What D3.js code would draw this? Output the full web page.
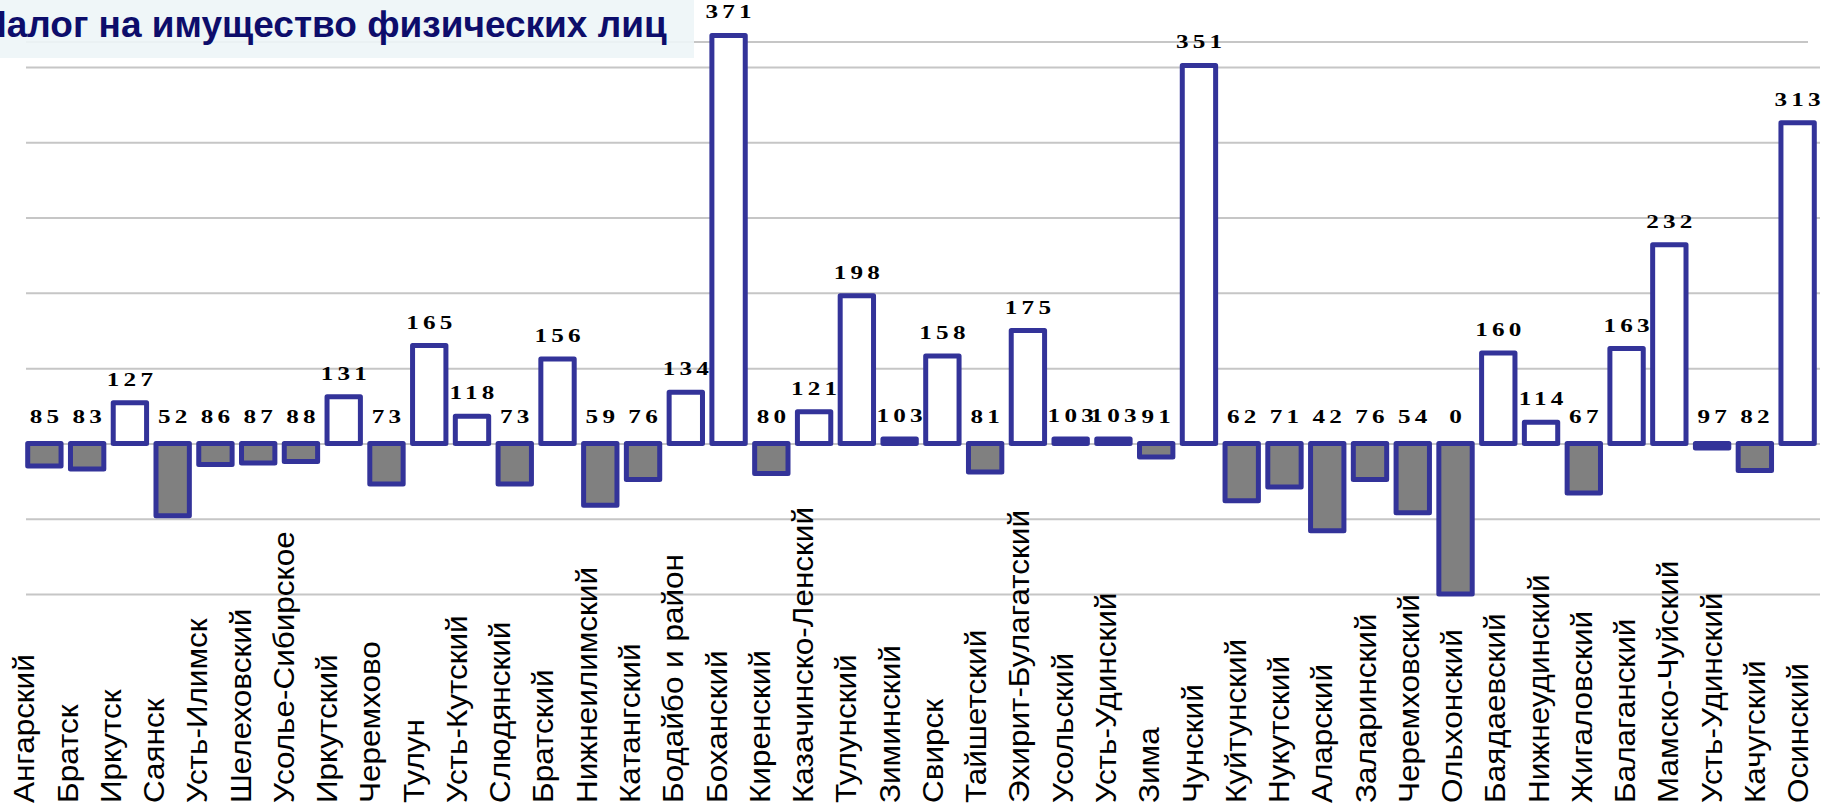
<!DOCTYPE html>
<html><head><meta charset="utf-8">
<script src="https://cdn.jsdelivr.net/npm/d3@7"></script>
<style>body{margin:0;background:#fff;} svg{display:block}</style>
</head><body>
<svg id="c" width="1823" height="810"></svg>
<script>
const title = "Налог на имущество физических лиц";
const categories = ["Ангарский","Братск","Иркутск","Саянск","Усть-Илимск","Шелеховский","Усолье-Сибирское","Иркутский","Черемхово","Тулун","Усть-Кутский","Слюдянский","Братский","Нижнеилимский","Катангский","Бодайбо и район","Боханский","Киренский","Казачинско-Ленский","Тулунский","Зиминский","Свирск","Тайшетский","Эхирит-Булагатский","Усольский","Усть-Удинский","Зима","Чунский","Куйтунский","Нукутский","Аларский","Заларинский","Черемховский","Ольхонский","Баядаевский","Нижнеудинский","Жигаловский","Балаганский","Мамско-Чуйский","Усть-Удинский","Качугский","Осинский"];
const values = [85,83,127,52,86,87,88,131,73,165,118,73,156,59,76,134,371,80,121,198,103,158,81,175,103,103,91,351,62,71,42,76,54,0,160,114,67,163,232,97,82,313];
const gridTicks = [0,50,100,150,200,250,300,350];
const baseValue = 100;

const svg = d3.select("#c");
const n = categories.length;
const idx = d3.range(n);
const plotLeft = 26, plotRight = 1820, plotTop = 42;

const x = d3.scaleBand().domain(idx).range([23,1819]).paddingInner(0.22).paddingOuter(0.11);
const y = d3.scaleLinear().domain([0,350]).range([594,67]);
const xl = d3.scalePoint().domain(idx).range([27,1801]);

// top frame line
svg.append("line").attr("x1",plotLeft).attr("x2",1808).attr("y1",plotTop).attr("y2",plotTop)
  .attr("stroke","#c6c6c6").attr("stroke-width",2);

// gridlines
const grid = svg.append("g").attr("transform",`translate(${plotLeft},0)`)
  .call(d3.axisLeft(y).tickValues(gridTicks).tickSize(-(plotRight-plotLeft)).tickFormat(""));
grid.select(".domain").remove();
grid.selectAll(".tick line").attr("stroke","#c6c6c6").attr("stroke-width",2);

// bars
const y0 = y(baseValue);
svg.append("g").selectAll("rect").data(idx).join("rect")
  .attr("x", i => x(i))
  .attr("width", x.bandwidth())
  .attr("y", i => Math.min(y(values[i]), y0))
  .attr("height", i => Math.max(1, Math.abs(y(values[i]) - y0)))
  .attr("fill", i => values[i] >= baseValue ? "#ffffff" : "#808080")
  .attr("stroke", "#333399")
  .attr("stroke-width", 5)
  .attr("stroke-linejoin", "round");

// value labels
const vl = svg.append("g").selectAll("g").data(idx).join("g")
  .attr("transform", i => {
    const v = values[i];
    const ty = v >= baseValue ? y(v) - 17 : y0 - 20;
    return `translate(${x(i)+x.bandwidth()/2},${ty})scale(1.4,1)`;
  });
vl.append("text")
  .attr("text-anchor","middle")
  .attr("dx", 1.5)
  .attr("font-family","'Liberation Serif','Times New Roman',serif")
  .attr("font-weight","bold")
  .attr("font-size",18)
  .attr("letter-spacing",3)
  .attr("fill","#000")
  .text(i => values[i]);

// category labels
svg.append("g").selectAll("text").data(idx).join("text")
  .attr("transform", i => `translate(${xl(i)},803)rotate(-90)scale(1.085,1)`)
  .attr("dy","0.25em")
  .attr("text-anchor","start")
  .attr("font-family","'Liberation Sans',Arial,sans-serif")
  .attr("font-size",29)
  .attr("fill","#000")
  .text(i => categories[i]);

// title box
svg.append("rect").attr("x",0).attr("y",0).attr("width",694).attr("height",58)
  .attr("fill","#edf5f7").attr("fill-opacity",0.9);
svg.append("text").attr("x",-20).attr("y",37)
  .attr("font-family","'Liberation Sans',Arial,sans-serif")
  .attr("font-weight","bold").attr("font-size",37)
  .attr("fill","#0d0d6b")
  .text(title);
</script>
</body></html>
